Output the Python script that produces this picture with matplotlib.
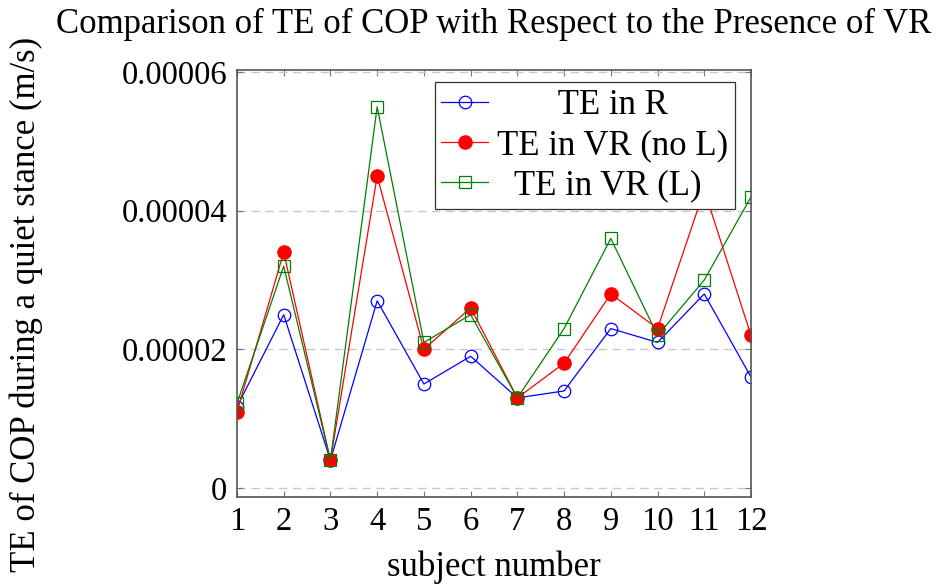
import matplotlib
matplotlib.use("Agg")
import matplotlib.pyplot as plt
from matplotlib.ticker import FixedLocator, FixedFormatter

# TE of centre-of-pressure per subject, in m/s
subjects = list(range(1, 13))
te_real = [1.17e-5, 2.5e-5, 0.4e-5, 2.7e-5, 1.5e-5, 1.9e-5, 1.3e-5, 1.4e-5, 2.3e-5, 2.1e-5, 2.8e-5, 1.6e-5]
te_vr_no_l = [1.1e-5, 3.4e-5, 0.4e-5, 4.5e-5, 2.0e-5, 2.6e-5, 1.3e-5, 1.8e-5, 2.8e-5, 2.3e-5, 4.3e-5, 2.2e-5]
te_vr_l = [1.22e-5, 3.2e-5, 0.4e-5, 5.5e-5, 2.1e-5, 2.5e-5, 1.3e-5, 2.3e-5, 3.6e-5, 2.2e-5, 3.0e-5, 4.2e-5]

labels = ["TE in R", "TE in VR (no L)", "TE in VR (L)"]
y_ticks = [0, 2e-5, 4e-5, 6e-5]
y_tick_labels = ["0", "0.00002", "0.00004", "0.00006"]

FS_TICK = 23.5
FS = 25
plt.rcParams["font.family"] = ["Liberation Serif"]
plt.rcParams["font.size"] = FS

fig = plt.figure(figsize=(9.43, 5.86), dpi=100)
ax = fig.add_axes([0.2513, 0.1519, 0.5451, 0.7286])

l1, = ax.plot(subjects, te_real, color="blue", lw=0.9, marker="o", ms=9,
              markerfacecolor="none", markeredgecolor="blue", mew=0.9)
l2, = ax.plot(subjects, te_vr_no_l, color="red", lw=0.9, marker="o", ms=9.5,
              markerfacecolor="red", markeredgecolor="red")
l3, = ax.plot(subjects, te_vr_l, color="green", lw=0.9, marker="s", ms=8.5,
              markerfacecolor="none", markeredgecolor="green", mew=0.9)

ax.set_xlim(1, 12)
ax.set_ylim(-1.3e-6, 6.03e-5)
ax.xaxis.set_major_locator(FixedLocator(subjects))
ax.yaxis.set_major_locator(FixedLocator(y_ticks))
ax.yaxis.set_major_formatter(FixedFormatter(y_tick_labels))

ax.grid(axis="y", color="#c8c8c8", lw=1.0, linestyle=(0, (6, 4)))
ax.set_axisbelow(True)
for s in ax.spines.values():
    s.set_color("#555555")
    s.set_linewidth(1.2)
ax.tick_params(direction="in", length=4.5, width=0.8, color="#777777",
               top=True, right=True, labelsize=FS_TICK, pad=7)

ax.set_title("Comparison of TE of COP with Respect to the Presence of VR",
             fontsize=FS, pad=27)
ax.set_xlabel("subject number", fontsize=FS)
ax.xaxis.set_label_coords(0.5, -0.125)
ax.set_ylabel("TE of COP during a quiet stance (m/s)", fontsize=FS)
ax.yaxis.set_label_coords(-0.378, 0.45)

# centre the legend texts by padding them with leading spaces
fig.canvas.draw()
renderer = fig.canvas.get_renderer()


def text_width(s):
    t = fig.text(0, 0, s, fontsize=FS)
    w = t.get_window_extent(renderer).width
    t.remove()
    return w


space = (text_width("x" + " " * 10 + "x") - text_width("xx")) / 10
widths = [text_width(s) for s in labels]
wmax = max(widths)
padded = [" " * int(round((wmax - w) / 2 / space)) + s for s, w in zip(labels, widths)]

leg = ax.legend([l1, l2, l3], padded, loc="upper right",
                bbox_to_anchor=(0.969, 0.972), borderaxespad=0,
                fontsize=FS, handlelength=1.35, labelspacing=0.2,
                handletextpad=0.25, borderpad=0.2, fancybox=False,
                framealpha=1, edgecolor="#333333")
leg.get_frame().set_linewidth(0.9)

fig.savefig("out.png", dpi=100)
